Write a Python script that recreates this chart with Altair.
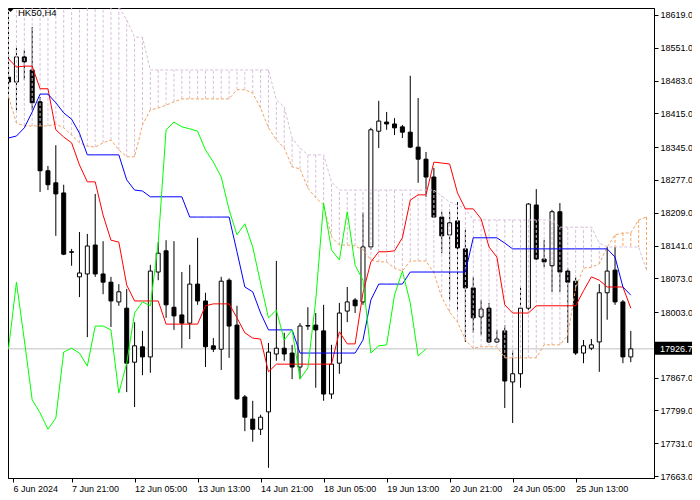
import altair as alt
import pandas as pd

symbol_title = "HK50,H4"
last_price = 17926.7

opens = [18490, 18480, 18532, 18505, 18439, 18296, 18271, 18250, 18128, 18076,
         18082, 18142, 18082, 18065, 18024, 18011, 17899, 17931, 17910, 18086,
         18130, 18013, 17997, 17980, 18061, 18026, 17933, 17926, 18069, 17976,
         17827, 17781, 17760, 17796, 17916, 17928, 17918, 17889, 17975, 17976,
         17964, 17833, 17897, 18005, 18028, 18024, 18138, 18378, 18397, 18393,
         18387, 18376, 18345, 18320, 18283, 18200, 18163, 18192, 18134, 18053,
         17993, 18011, 17941, 17964, 17858, 17875, 18011, 18225, 18113, 18099,
         18211, 18088, 18067, 17918, 17928, 17941, 18043, 18090, 18024, 17910]
highs = [18536, 18551, 18546, 18594, 18449, 18306, 18349, 18267, 18134, 18169,
         18165, 18248, 18150, 18076, 18061, 18051, 17982, 17964, 18101, 18148,
         18152, 18150, 18086, 18101, 18157, 18043, 17949, 18076, 18073, 18016,
         17831, 17819, 17790, 17939, 18109, 17960, 17935, 17980, 18013, 18001,
         18018, 17935, 18022, 18055, 18032, 18209, 18385, 18441, 18418, 18405,
         18391, 18493, 18447, 18335, 18302, 18211, 18211, 18231, 18173, 18076,
         18028, 18022, 17966, 17976, 17924, 18055, 18229, 18258, 18152, 18215,
         18229, 18094, 18076, 17945, 17947, 18061, 18138, 18138, 18028, 17964]
lows = [18464, 18422, 18484, 18422, 18252, 18256, 18161, 18121, 18099, 18034,
        17951, 18076, 18040, 17972, 18016, 17837, 17806, 17872, 17877, 18069,
        17991, 17966, 17928, 17947, 18018, 17889, 17920, 17883, 17908, 17821,
        17756, 17734, 17748, 17680, 17902, 17902, 17864, 17864, 17966, 17846,
        17819, 17823, 17875, 17982, 18001, 18018, 18132, 18343, 18381, 18370,
        18364, 18343, 18271, 18242, 18198, 18125, 18028, 18007, 17941, 17960,
        17955, 17939, 17939, 17804, 17773, 17846, 18007, 18111, 18096, 18045,
        18045, 17939, 17914, 17897, 17924, 17879, 17987, 18018, 17897, 17899]
closes = [18480, 18532, 18522, 18437, 18296, 18267, 18248, 18123, 18127, 18084,
          18140, 18082, 18065, 18026, 18045, 17897, 17933, 17910, 18088, 18125,
          18018, 17995, 17980, 18061, 18026, 17931, 17926, 18067, 17974, 17823,
          17785, 17760, 17785, 17920, 17928, 17916, 17889, 17974, 17974, 17966,
          17833, 17895, 18001, 18024, 18016, 18138, 18381, 18399, 18393, 18385,
          18376, 18345, 18320, 18283, 18200, 18161, 18188, 18136, 18053, 17991,
          18009, 17941, 17947, 17860, 17875, 18011, 18227, 18113, 18107, 18211,
          18086, 18065, 17918, 17933, 17935, 18043, 18088, 18024, 17910, 17926.7]

tenkan = [18528, 18511, 18513, 18513, 18466, 18466, 18381, 18366, 18354, 18308,
          18273, 18273, 18204, 18152, 18148, 18059, 18026, 18026, 18026, 18026,
          17978, 17978, 17978, 17978, 17978, 18016, 18020, 18020, 18020, 17991,
          17960, 17949, 17947, 17879, 17895, 17895, 17895, 17895, 17895, 17895,
          17895, 17895, 17962, 17937, 17937, 18043, 18107, 18128, 18128, 18130,
          18157, 18235, 18246, 18246, 18314, 18312, 18310, 18250, 18217, 18217,
          18196, 18138, 18117, 18018, 18001, 18001, 18001, 18016, 18016, 18016,
          18016, 18016, 18016, 18047, 18076, 18069, 18055, 18055, 18055, 18011]
kijun = [18364, 18368, 18385, 18418, 18455, 18455, 18437, 18416, 18403, 18374,
         18329, 18329, 18329, 18329, 18329, 18277, 18256, 18254, 18242, 18242,
         18242, 18242, 18242, 18200, 18200, 18200, 18200, 18200, 18200, 18128,
         18055, 18045, 18001, 17966, 17966, 17966, 17966, 17918, 17918, 17918,
         17918, 17918, 17918, 17918, 17918, 17945, 18028, 18061, 18061, 18061,
         18061, 18086, 18086, 18086, 18086, 18086, 18086, 18086, 18086, 18157,
         18157, 18157, 18157, 18146, 18134, 18134, 18134, 18134, 18134, 18134,
         18134, 18134, 18134, 18134, 18134, 18134, 18134, 18117, 18055, 18038]
chikou = [17928, 18065, 17945, 17821, 17794, 17760, 17783, 17920, 17928, 17918,
          17891, 17974, 17974, 17966, 17835, 17897, 18001, 18024, 18016, 18146,
          18381, 18397, 18387, 18383, 18378, 18339, 18314, 18283, 18215, 18163,
          18186, 18138, 18063, 17991, 18007, 17945, 17966, 17864, 17887, 18028,
          18229, 18132, 18111, 18211, 18100, 18069, 17918, 17933, 17935, 18038,
          18088, 18022, 17912, 17926.7]
span_a = [18449, 18395, 18389, 18389, 18389, 18389, 18393, 18385, 18370, 18354,
          18347, 18345, 18354, 18360, 18339, 18325, 18325, 18391, 18422, 18426,
          18432, 18439, 18445, 18445, 18445, 18445, 18445, 18445, 18445, 18464,
          18464, 18457, 18426, 18385, 18360, 18343, 18304, 18300, 18260, 18240,
          18225, 18159, 18142, 18142, 18140, 18132, 18111, 18107, 18107, 18094,
          18088, 18109, 18109, 18109, 18084, 18034, 18003, 17982, 17945, 17928,
          17931, 17931, 17931, 17908, 17908, 17908, 17908, 17908, 17935, 17935,
          17935, 17955, 18053, 18094, 18096, 18103, 18138, 18163, 18167, 18167,
          18194, 18200]
span_b = [18700, 18700, 18700, 18700, 18700, 18700, 18700, 18700, 18700, 18700,
          18700, 18700, 18700, 18700, 18636, 18609, 18573, 18573, 18505, 18505,
          18505, 18505, 18505, 18505, 18505, 18505, 18505, 18505, 18505, 18505,
          18505, 18505, 18505, 18505, 18443, 18428, 18364, 18343, 18329, 18329,
          18329, 18273, 18256, 18256, 18256, 18256, 18256, 18256, 18256, 18256,
          18256, 18256, 18256, 18256, 18256, 18244, 18231, 18225, 18217, 18194,
          18194, 18194, 18194, 18194, 18194, 18194, 18194, 18194, 18194, 18194,
          18179, 18179, 18179, 18179, 18179, 18146, 18138, 18138, 18138, 18138,
          18138, 18090]

date_labels = ["6 Jun 2024", "7 Jun 21:00", "12 Jun 05:00", "13 Jun 13:00",
               "14 Jun 21:00", "18 Jun 05:00", "19 Jun 13:00", "20 Jun 21:00",
               "24 Jun 05:00", "25 Jun 13:00"]
price_ticks = [18619, 18551, 18483, 18415, 18345, 18277, 18209, 18141, 18073,
               18003, 17935, 17867, 17799, 17731, 17663]
hidden_tick = 17935  # label covered by the current-price box

# ---------------- layout ----------------
W, H = 646, 470
X_MIN, X_MAX = 0.5625, 81.3125
Y_MIN, Y_MAX = 17658.9, 18633.5
FONT = "Liberation Sans"

candles = pd.DataFrame({"i": list(range(len(opens))), "o": opens, "h": highs, "l": lows, "c": closes})
ind = pd.DataFrame({"i": list(range(len(tenkan))), "tenkan": tenkan, "kijun": kijun})
chik = pd.DataFrame({"i": list(range(len(chikou))), "v": chikou})
cloud = pd.DataFrame({"i": list(range(len(span_a))), "a": span_a, "b": span_b})
last_df = pd.DataFrame({"p": [last_price], "label": [f"{last_price:.1f}"]})
title_df = pd.DataFrame({"t": [symbol_title]})

xs = alt.Scale(domain=[X_MIN, X_MAX], nice=False, zero=False)
ys = alt.Scale(domain=[Y_MIN, Y_MAX], nice=False, zero=False)

label_js = "[" + ",".join("'" + s + "'" for s in date_labels) + "]"
x_tick_vals = [max(8 * k, X_MIN) for k in range(len(date_labels))]

x_axis = alt.Axis(values=x_tick_vals, labelExpr=label_js + "[round(datum.value/8)]",
                  orient="bottom", title=None, grid=False, domainColor="black",
                  tickColor="black", tickSize=4, labelAlign="left", labelBaseline="top",
                  labelPadding=2, labelFont=FONT, labelFontSize=9, labelColor="black",
                  labelOverlap=False, labelFlush=False)
y_axis = alt.Axis(values=price_ticks,
                  labelExpr=f"datum.value == {hidden_tick} ? '' : format(datum.value, '.1f')",
                  orient="right", title=None, grid=False,
                  domainColor="black", tickColor="black", tickSize=4, labelPadding=2,
                  labelFont=FONT, labelFontSize=9, labelColor="black", labelOverlap=False,
                  labelAlign="left", labelBaseline="middle")

X = lambda f: alt.X(f, type="quantitative", scale=xs, axis=x_axis)
Y = lambda f: alt.Y(f, type="quantitative", scale=ys, axis=y_axis)

price_line = alt.Chart(last_df).mark_rule(color="#c0c0c0", strokeWidth=1).encode(y=Y("p"))

wicks = alt.Chart(candles).mark_rule(color="black", strokeWidth=1, clip=True).encode(
    x=X("i"), y=Y("l"), y2="h:Q")
bodies = alt.Chart(candles).mark_bar(size=4, stroke="black", strokeWidth=1, clip=True,
                                     orient="vertical").encode(
    x=X("i"), y=Y("o"), y2="c:Q",
    fill=alt.when(alt.datum.o > alt.datum.c).then(alt.value("black")).otherwise(alt.value("white")))

hatch = alt.Chart(cloud).mark_rule(strokeWidth=1, strokeDash=[3, 2], clip=True).encode(
    x=X("i"), y=Y("a"), y2="b:Q",
    color=alt.when(alt.datum.a > alt.datum.b).then(alt.value("#f4a460")).otherwise(alt.value("#d8bfd8")))
line_a = alt.Chart(cloud).mark_line(color="#f4a460", strokeWidth=1, strokeDash=[3, 2], clip=True).encode(
    x=X("i"), y=Y("a"))
line_b = alt.Chart(cloud).mark_line(color="#d8bfd8", strokeWidth=1, strokeDash=[3, 2], clip=True).encode(
    x=X("i"), y=Y("b"))

tenkan_line = alt.Chart(ind).mark_line(color="#ff0000", strokeWidth=1, clip=True).encode(x=X("i"), y=Y("tenkan"))
kijun_line = alt.Chart(ind).mark_line(color="#0000ff", strokeWidth=1, clip=True).encode(x=X("i"), y=Y("kijun"))
chikou_line = alt.Chart(chik).mark_line(color="#00ff00", strokeWidth=1, clip=True).encode(x=X("i"), y=Y("v"))

box = alt.Chart(last_df).mark_rect(color="black", yOffset=-7, y2Offset=6).encode(
    x=alt.value(W + 1), x2=alt.value(W + 40), y=Y("p"), y2="p:Q")
box_text = alt.Chart(last_df).mark_text(color="white", align="left", baseline="middle",
                                        font=FONT, fontSize=9).encode(
    x=alt.value(W + 6), y=Y("p"), text="label:N")

tri = alt.Chart(title_df).mark_point(shape="M-1,-0.5L1,-0.5L0,0.5Z", filled=True, color="black",
                                     size=36, opacity=1).encode(x=alt.value(2.5), y=alt.value(2.5))
title_txt = alt.Chart(title_df).mark_text(align="left", baseline="alphabetic", font=FONT,
                                          fontSize=9.5, color="black").encode(
    x=alt.value(10), y=alt.value(7.5), text="t:N")

chart = alt.layer(price_line, wicks, bodies, hatch, line_a, line_b, tenkan_line, kijun_line,
                  chikou_line, box, box_text, tri, title_txt).properties(
    width=W, height=H, background="white",
    autosize=alt.AutoSizeParams(type="none"),
    padding={"left": 0, "top": 0, "right": 38, "bottom": 14},
).configure_view(stroke="black", strokeWidth=1)

chart.save("out.html", embed_options={"renderer": "svg", "actions": False})
